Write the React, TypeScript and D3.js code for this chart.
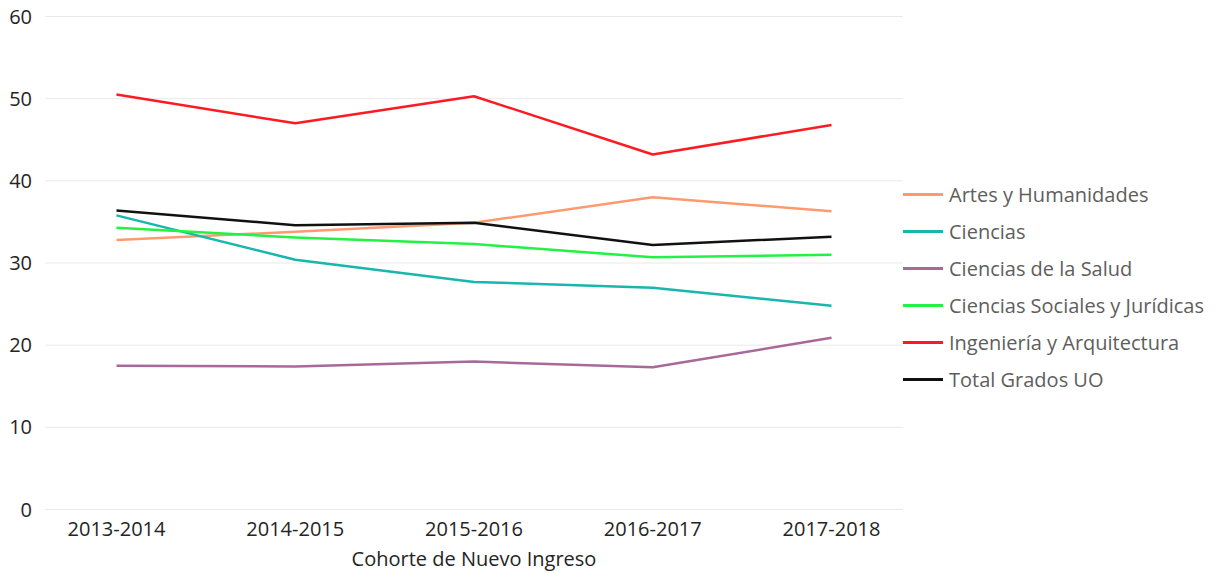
import React from 'react';
import * as d3 from 'd3';

// Cohortes
const cohorts = ['2013-2014', '2014-2015', '2015-2016', '2016-2017', '2017-2018'];

// Tasa por rama de conocimiento
const artes = [32.8, 33.8, 34.9, 38.0, 36.3];
const ciencias = [35.8, 30.4, 27.7, 27.0, 24.8];
const salud = [17.5, 17.4, 18.0, 17.3, 20.9];
const sociales = [34.3, 33.1, 32.3, 30.7, 31.0];
const ingenieria = [50.5, 47.0, 50.3, 43.2, 46.8];
const total = [36.4, 34.6, 34.9, 32.2, 33.2];

const yTicks = [0, 10, 20, 30, 40, 50, 60];

const series = [
  { name: 'Artes y Humanidades', values: artes, color: '#FE9A6E' },
  { name: 'Ciencias', values: ciencias, color: '#19B6AE' },
  { name: 'Ciencias de la Salud', values: salud, color: '#A8699A' },
  { name: 'Ciencias Sociales y Jurídicas', values: sociales, color: '#22F244' },
  { name: 'Ingeniería y Arquitectura', values: ingenieria, color: '#FD1A22' },
  { name: 'Total Grados UO', values: total, color: '#111111' },
];

const font = '"Open Sans", "Noto Sans", sans-serif';

export default function App() {
  const width = 1221;
  const height = 573;
  const left = 45;
  const right = 903;

  const x = d3.scalePoint<string>().domain(cohorts).range([left, right]).padding(0.4);
  const y = d3.scaleLinear().domain([0, 60]).range([509.5, 16.5]);

  const line = d3
    .line<number>()
    .x((_, i) => x(cohorts[i]) as number)
    .y((d) => y(d));

  return (
    <svg
      width={width}
      height={height}
      style={{ position: 'absolute', left: 0, top: 0, background: '#fff' }}
      fontFamily={font}
    >
      {/* grid + y axis */}
      {yTicks.map((t) => (
        <g key={t}>
          <line x1={left} x2={right} y1={y(t)} y2={y(t)} stroke="#E9E9E9" strokeWidth={1} />
          <text x={32} y={y(t)} dy="0.35em" textAnchor="end" fontSize={20} fill="#252423">
            {t}
          </text>
        </g>
      ))}

      {/* x axis labels */}
      {cohorts.map((c) => (
        <text key={c} x={x(c)} y={536} textAnchor="middle" fontSize={20} fill="#252423">
          {c}
        </text>
      ))}
      <text x={474} y={566} textAnchor="middle" fontSize={20} fill="#252423">
        Cohorte de Nuevo Ingreso
      </text>

      {/* lines */}
      {series.map((s) => (
        <path
          key={s.name}
          d={line(s.values) || ''}
          fill="none"
          stroke={s.color}
          strokeWidth={2.5}
          strokeLinejoin="round"
        />
      ))}

      {/* legend */}
      {series.map((s, i) => {
        const ly = 194.5 + i * 37;
        return (
          <g key={s.name}>
            <line x1={903} x2={943} y1={ly} y2={ly} stroke={s.color} strokeWidth={3} />
            <text x={949} y={ly} dy="0.35em" fontSize={20} fill="#605E5C">
              {s.name}
            </text>
          </g>
        );
      })}
    </svg>
  );
}
